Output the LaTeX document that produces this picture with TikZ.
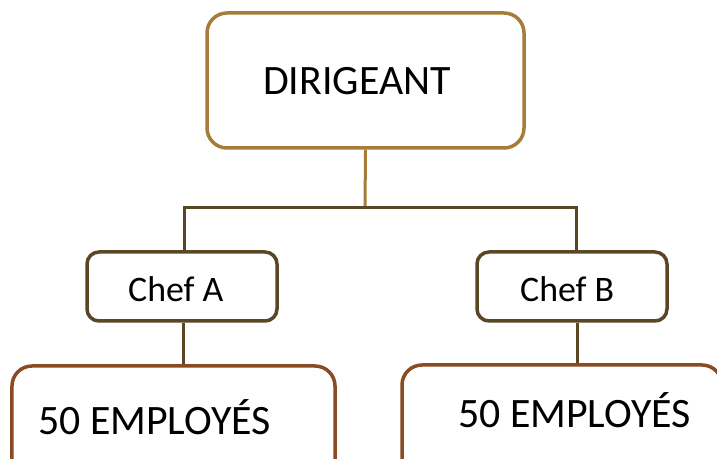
\documentclass[tikz,border=0pt]{standalone}
\usepackage{fontspec}
\setmainfont{Carlito}
\definecolor{goldline}{HTML}{A67D38}
\definecolor{darkline}{HTML}{5A4726}
\definecolor{rustline}{HTML}{8A4A22}
\tikzset{
  box/.style={draw, fill=white, rectangle, inner sep=0pt, line width=3.5bp},
  topbox/.style={box, draw=goldline, rounded corners=20bp},
  chefbox/.style={box, draw=darkline, rounded corners=12bp},
  staffbox/.style={box, draw=rustline, rounded corners=20bp},
  label/.style={anchor=base west, inner sep=0pt, text=black},
  link/.style={line width=3bp}
}
\begin{document}
\begin{tikzpicture}[x=1bp, y=1bp]
  \useasboundingbox (0,0) rectangle (717,459);
  \clip (0,0) rectangle (717,459);
  % junction of the branch line
  \coordinate (bus) at (365,251);
  % boxes
  \node[topbox, minimum width=317bp, minimum height=135bp] (dir) at (365.5,378.5) {};
  \node[chefbox, minimum width=190bp, minimum height=69bp] (chefA) at (182,172.5) {};
  \node[chefbox, minimum width=190bp, minimum height=69bp] (chefB) at (572,172.5) {};
  \node[staffbox, minimum width=323bp, minimum height=114bp] (empA) at (173.5,36) {};
  \node[staffbox, minimum width=320bp, minimum height=115bp] (empB) at (562,36.5) {};
  % connectors
  \draw[link, goldline] (dir.south) -- (bus);
  \draw[link, darkline] ([xshift=2bp]chefA.north) -- ([xshift=2bp]chefA.north |- bus)
       -- ([xshift=4bp]chefB.north |- bus) -- ([xshift=4bp]chefB.north);
  \draw[link, darkline] ([xshift=1bp]chefA.south) -- ([xshift=1bp]chefA.south |- empA.north);
  \draw[link, darkline] ([xshift=5bp]chefB.south) -- ([xshift=5bp]chefB.south |- empB.north);
  % texts
  \node[label, font=\fontsize{42}{50}\selectfont] (tdir) at (263,364) {DIRIGEANT};
  \node[label, font=\fontsize{36}{43}\selectfont] (tchefA) at (128,157) {Chef A};
  \node[label, font=\fontsize{36}{43}\selectfont] (tchefB) at (520,157) {Chef B};
  \node[label, font=\fontsize{42}{50}\selectfont] (tempA) at (38,24) {50 EMPLOYÉS};
  \node[label, font=\fontsize{42}{50}\selectfont] (tempB) at (458,31) {50 EMPLOYÉS};
\end{tikzpicture}
\end{document}
